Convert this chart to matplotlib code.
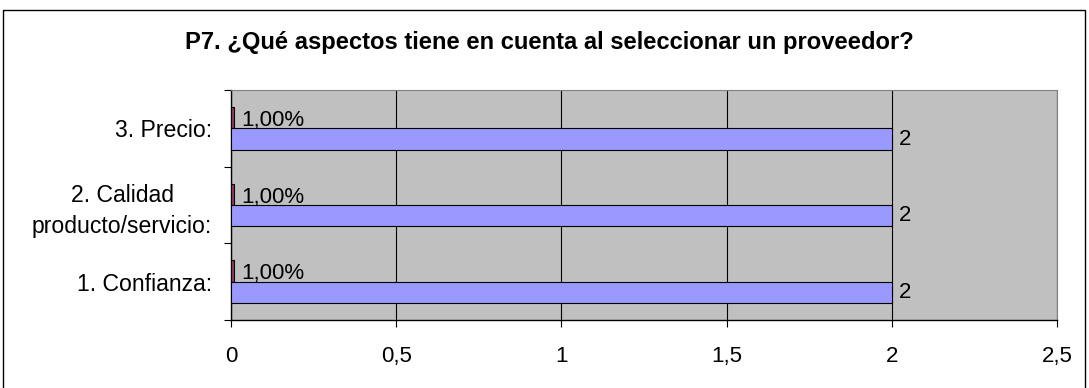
import numpy as np
import matplotlib
matplotlib.use("Agg")
import matplotlib.pyplot as plt
from matplotlib.patches import Rectangle
from matplotlib.ticker import FixedLocator, MultipleLocator, FuncFormatter

plt.rcParams['font.family'] = ['Liberation Sans', 'DejaVu Sans']

categorias = ["1. Confianza:", "2. Calidad\nproducto/servicio:", "3. Precio:"]
conteo = [2, 2, 2]
porcentaje = [0.01, 0.01, 0.01]
etiquetas_pct = ["1,00%", "1,00%", "1,00%"]

titulo = "P7. ¿Qué aspectos tiene en cuenta al seleccionar un proveedor?"

fig = plt.figure(figsize=(10.89, 3.88), dpi=100)

# marco exterior del grafico
fig.patches.append(Rectangle((3 / 1089, -0.01), 1082 / 1089, 1 - 10 / 388 + 0.01,
                             transform=fig.transFigure, fill=False,
                             edgecolor="black", linewidth=1.0))

ax = fig.add_axes([231 / 1089, 68 / 388, 826 / 1089, 230 / 388])
ax.set_facecolor("#C0C0C0")

y = np.arange(len(categorias))
alto = 0.28

b_pct = ax.barh(y + alto / 2, porcentaje, height=alto, color="#993366",
                edgecolor="black", linewidth=0.8, zorder=3)
b_cnt = ax.barh(y - alto / 2, conteo, height=alto, color="#9999FF",
                edgecolor="black", linewidth=0.8, zorder=3)

for i in range(len(categorias)):
    ax.text(porcentaje[i] + 0.02, y[i] + 0.03, etiquetas_pct[i],
            fontsize=16, va="baseline", ha="left", zorder=4)
    ax.text(conteo[i] + 0.02, y[i] - alto / 2, str(conteo[i]),
            fontsize=16, va="center", ha="left", zorder=4)

ax.set_xlim(0, 2.5)
ax.set_ylim(-0.5, 2.5)

ax.xaxis.set_major_locator(MultipleLocator(0.5))
ax.xaxis.set_major_formatter(FuncFormatter(
    lambda v, p: ("%g" % v).replace(".", ",")))
ax.grid(axis="x", color="black", linewidth=0.8, zorder=1)
ax.set_axisbelow(True)

ax.set_yticks(y)
ax.set_yticklabels(categorias, multialignment="center", linespacing=1.4)
ax.yaxis.set_minor_locator(FixedLocator([-0.5, 0.5, 1.5, 2.5]))

ax.tick_params(axis="x", which="major", direction="out", length=5,
               width=0.8, pad=14, labelsize=16)
ax.tick_params(axis="y", which="major", length=0, pad=13.5, labelsize=16.6)
ax.tick_params(axis="y", which="minor", direction="out", length=5, width=0.8)

for lado in ["top", "right"]:
    ax.spines[lado].set_color("#808080")
for lado in ["left", "bottom"]:
    ax.spines[lado].set_color("black")
    ax.spines[lado].set_linewidth(1.0)

fig.text(549 / 1089, 1 - 42 / 388, titulo, ha="center", va="center",
         fontsize=17.1, fontweight="bold")

fig.savefig("out.png", dpi=100)
